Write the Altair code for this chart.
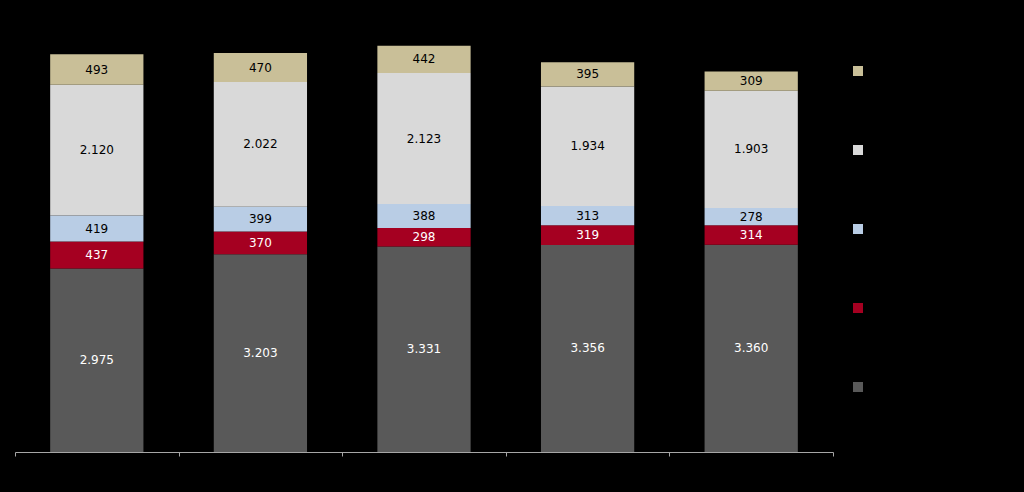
import altair as alt
import pandas as pd

categories = ["1", "2", "3", "4", "5"]
series = ["Serie 1", "Serie 2", "Serie 3", "Serie 4", "Serie 5"]  # bottom to top
colors = ["#595959", "#a50021", "#b9cde5", "#d9d9d9", "#c9bf98"]
text_colors = ["white", "white", "black", "black", "black"]

s1 = [2975, 3203, 3331, 3356, 3360]
s2 = [437, 370, 298, 319, 314]
s3 = [419, 399, 388, 313, 278]
s4 = [2120, 2022, 2123, 1934, 1903]
s5 = [493, 470, 442, 395, 309]

rows = []
for si, (name, vals) in enumerate(zip(series, [s1, s2, s3, s4, s5])):
    for c, v in zip(categories, vals):
        rows.append({"cat": c, "series": name, "idx": si, "v": v, "tc": text_colors[si]})
df = pd.DataFrame(rows)

x = alt.X("cat:N", sort=categories, title=None,
          scale=alt.Scale(paddingInner=0, paddingOuter=0),
          axis=alt.Axis(labels=False, tickBand="extent", domainColor="#a6a6a6",
                        tickColor="#a6a6a6", tickSize=4, domainWidth=1, grid=False))

base = alt.Chart(df).transform_stack(
    stack="v", groupby=["cat"], as_=["v0", "v1"], sort=[alt.SortField("idx", "ascending")]
).transform_calculate(
    mid="(datum.v0 + datum.v1) / 2",
    label="replace(format(datum.v, ','), ',', '.')"
)

bars = base.mark_bar(width=alt.RelativeBandSize(0.57)).encode(
    x=x,
    y=alt.Y("v0:Q", scale=alt.Scale(domain=[0, 7000]), axis=None),
    y2="v1:Q",
    color=alt.Color("series:N", sort=series[::-1],
                    scale=alt.Scale(domain=series[::-1], range=colors[::-1]),
                    legend=alt.Legend(title=None, orient="none", legendX=838, legendY=46,
                                      symbolType="square", symbolSize=100,
                                      symbolStrokeWidth=0, labelExpr="''",
                                      labelFontSize=10, rowPadding=69, padding=0)),
)

labels = base.mark_text(font="DejaVu Sans", fontSize=12).encode(
    x=x,
    y=alt.Y("mid:Q", scale=alt.Scale(domain=[0, 7000]), axis=None),
    text="label:N",
    color=alt.Color("tc:N", scale=None, legend=None),
)

chart = alt.layer(bars, labels).properties(
    width=818, height=432, background="black",
    padding={"left": 15, "top": 20, "right": 191, "bottom": 40},
    autosize="none",
).configure_view(stroke=None)

chart.save("out.html", embed_options={"renderer": "svg", "actions": False})
